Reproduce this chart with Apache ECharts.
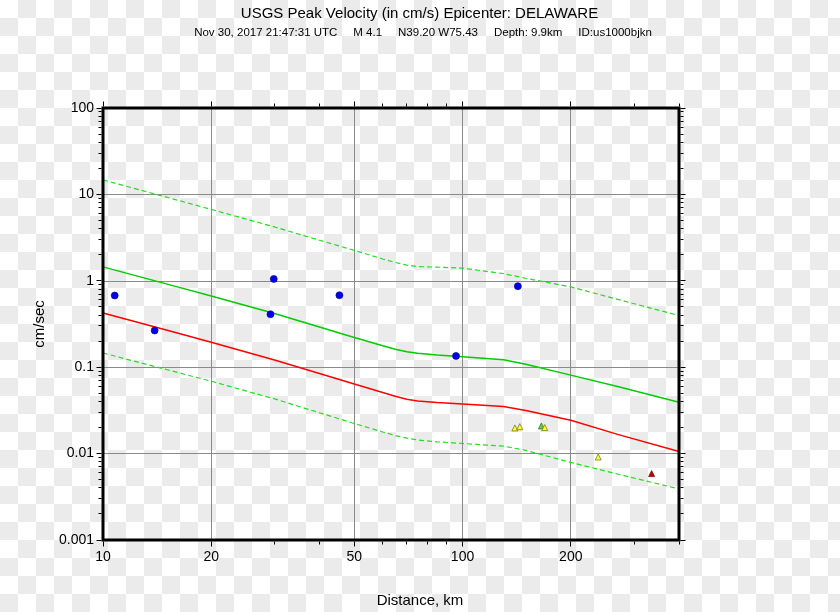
<!DOCTYPE html>
<html>
<head>
<meta charset="utf-8">
<script src="https://cdn.jsdelivr.net/npm/echarts@6/dist/echarts.min.js"></script>
<style>
html,body{margin:0;padding:0;}
body{width:840px;height:612px;overflow:hidden;background-color:#fff;}
#chart{width:840px;height:612px;}
</style>
</head>
<body>
<div id="chart"></div>
<script>
// ---------- data ----------
const distances   = [10, 15, 20, 30, 40, 50, 60, 65, 70, 75, 85, 100, 130, 150, 200, 270, 400];
const medianPGV   = [1.449, 0.921, 0.668, 0.418, 0.292, 0.221, 0.177, 0.161, 0.151, 0.145, 0.138, 0.132, 0.1223, 0.108, 0.081, 0.0598, 0.0393];
const upperPGV    = [14.7, 9.3, 6.7, 4.2, 2.95, 2.25, 1.79, 1.63, 1.52, 1.46, 1.44, 1.40, 1.21, 1.07, 0.85, 0.61, 0.396];
const lowerPGV    = [0.146, 0.094, 0.0688, 0.043, 0.0297, 0.0223, 0.0178, 0.0162, 0.0151, 0.0144, 0.0137, 0.0131, 0.0122, 0.0109, 0.0079, 0.0058, 0.0039];
const redPGV      = [0.425, 0.269, 0.1945, 0.121, 0.0844, 0.064, 0.0509, 0.0461, 0.0425, 0.0407, 0.039, 0.0376, 0.0351, 0.0315, 0.0243, 0.0167, 0.0106];

const stationDist = [10.78, 13.92, 29.85, 29.23, 45.45, 95.9, 142.5];
const stationPGV  = [0.676, 0.266, 1.052, 0.410, 0.681, 0.135, 0.866];

const triDist     = [139.8, 144.3, 165.7, 169.3, 238.4, 335.7];
const triPGV      = [0.0198, 0.0205, 0.0209, 0.0200, 0.00913, 0.00587];
const triColors   = ['#ffff33', '#ffff33', '#66cc44', '#ffff33', '#ffff33', '#cc0000'];
const triBorders  = ['#6b6b00', '#6b6b00', '#2d6b1e', '#6b6b00', '#6b6b00', '#5a0000'];

const xLabelVals  = [10, 20, 50, 100, 200];
const xLabelText  = ['10', '20', '50', '100', '200'];
const xGridVals   = [20, 50, 100, 200];
const xMajorTicks = [10, 20, 50, 100, 200];
const xMinorTicks = [30, 40, 60, 70, 80, 90, 300, 400];
const yMajorTicks = [0.001, 0.01, 0.1, 1, 10, 100];
const yMinorTicks = [0.002, 0.003, 0.004, 0.005, 0.006, 0.007, 0.008, 0.009,
                     0.02, 0.03, 0.04, 0.05, 0.06, 0.07, 0.08, 0.09,
                     0.2, 0.3, 0.4, 0.5, 0.6, 0.7, 0.8, 0.9,
                     2, 3, 4, 5, 6, 7, 8, 9,
                     20, 30, 40, 50, 60, 70, 80, 90];

const titleText = 'USGS Peak Velocity (in cm/s) Epicenter: DELAWARE';
const subText = 'Nov 30, 2017 21:47:31 UTC     M 4.1     N39.20 W75.43     Depth: 9.9km     ID:us1000bjkn';

// ---------- chart ----------
const FONT = '"Liberation Sans", Arial, Helvetica, sans-serif';
const X_MIN = 10, X_MAX = 400, Y_MIN = 0.001, Y_MAX = 100;

// checkerboard backdrop (transparency pattern of the reference image)
const tile = document.createElement('canvas');
tile.width = 36; tile.height = 36;
(function () {
  const c = tile.getContext('2d');
  c.fillStyle = '#ffffff'; c.fillRect(0, 0, 36, 36);
  c.fillStyle = '#ebebeb'; c.fillRect(18, 0, 18, 18); c.fillRect(0, 18, 18, 18);
})();

function crisp(v) { return Math.round(v - 0.5) + 0.5; }

function xTickSeries(vals, len) {
  return {
    type: 'custom', silent: true, clip: false, z: 6,
    data: vals.map(v => [v, Y_MIN]), encode: { x: 0, y: 1 },
    renderItem: function (params, api) {
      const cs = params.coordSys;
      const px = crisp(api.coord([api.value(0), Y_MIN])[0]);
      const b = cs.y + cs.height + 1.5, t = cs.y - 1.5;
      return { type: 'group', children: [
        { type: 'line', shape: { x1: px, y1: b, x2: px, y2: b + len }, style: { stroke: '#000', lineWidth: 1 } },
        { type: 'line', shape: { x1: px, y1: t, x2: px, y2: t - len }, style: { stroke: '#000', lineWidth: 1 } }
      ] };
    }
  };
}
function yTickSeries(vals, len) {
  return {
    type: 'custom', silent: true, clip: false, z: 6,
    data: vals.map(v => [X_MIN, v]), encode: { x: 0, y: 1 },
    renderItem: function (params, api) {
      const cs = params.coordSys;
      const py = crisp(api.coord([X_MIN, api.value(1)])[1]);
      const l = cs.x - 1.5, r = cs.x + cs.width + 1.5;
      return { type: 'group', children: [
        { type: 'line', shape: { x1: l, y1: py, x2: l - len, y2: py }, style: { stroke: '#000', lineWidth: 1 } },
        { type: 'line', shape: { x1: r, y1: py, x2: r + len, y2: py }, style: { stroke: '#000', lineWidth: 1 } }
      ] };
    }
  };
}
const xGridSeries = {
  type: 'custom', silent: true, clip: false, z: 1,
  data: xGridVals.map(v => [v, Y_MIN]), encode: { x: 0, y: 1 },
  renderItem: function (params, api) {
    const cs = params.coordSys;
    const px = crisp(api.coord([api.value(0), Y_MIN])[0]);
    return { type: 'line', shape: { x1: px, y1: cs.y, x2: px, y2: cs.y + cs.height }, style: { stroke: '#8a8a8a', lineWidth: 1 } };
  }
};
const xLabelSeries = {
  type: 'custom', silent: true, clip: false, z: 6,
  data: xLabelVals.map((v, i) => [v, Y_MIN, i]), encode: { x: 0, y: 1 },
  renderItem: function (params, api) {
    const cs = params.coordSys;
    const px = api.coord([api.value(0), Y_MIN])[0];
    return { type: 'text', style: {
      text: xLabelText[api.value(2)], x: px, y: cs.y + cs.height + 16.7,
      align: 'center', verticalAlign: 'middle', textAlign: 'center', textVerticalAlign: 'middle',
      fill: '#000', fontSize: 14, fontFamily: FONT
    } };
  }
};

function lineSeries(vals, color, width, dashed) {
  return {
    type: 'line', data: distances.map((d, i) => [d, vals[i]]),
    showSymbol: false, symbol: 'none', smooth: false, silent: true, z: 3,
    lineStyle: { color: color, width: width, type: dashed ? [5, 3] : 'solid' }
  };
}

const chart = echarts.init(document.getElementById('chart'), null, { renderer: 'canvas' });
chart.setOption({
  backgroundColor: { image: tile, repeat: 'repeat' },
  animation: false,
  graphic: [
    { type: 'text', x: 419.5, y: 13.5, style: { text: titleText, align: 'center', verticalAlign: 'middle', fill: '#000', fontSize: 15, fontFamily: FONT } },
    { type: 'text', x: 423, y: 32.5, style: { text: subText, align: 'center', verticalAlign: 'middle', fill: '#000', fontSize: 11.5, fontFamily: FONT } },
    { type: 'text', x: 420, y: 600.5, style: { text: 'Distance, km', align: 'center', verticalAlign: 'middle', fill: '#000', fontSize: 15, fontFamily: FONT } },
    { type: 'text', x: 40, y: 324, rotation: Math.PI / 2, style: { text: 'cm/sec', align: 'center', verticalAlign: 'middle', fill: '#000', fontSize: 15, fontFamily: FONT } }
  ],
  grid: { left: 103, top: 108, width: 576, height: 432, show: true, borderColor: '#000', borderWidth: 3, backgroundColor: 'transparent', z: 4 },
  xAxis: {
    type: 'log', logBase: 10, min: X_MIN, max: X_MAX,
    axisLine: { show: false }, axisTick: { show: false }, axisLabel: { show: false }, splitLine: { show: false }
  },
  yAxis: {
    type: 'log', logBase: 10, min: Y_MIN, max: Y_MAX,
    axisLine: { show: false }, axisTick: { show: false },
    axisLabel: { fontSize: 14, color: '#000', margin: 9, fontFamily: FONT, formatter: v => String(+(+v).toPrecision(6)) },
    splitLine: { show: true, lineStyle: { color: '#8a8a8a', width: 1 } }
  },
  series: [
    xGridSeries,
    lineSeries(upperPGV, '#22dd22', 1.2, true),
    lineSeries(lowerPGV, '#22dd22', 1.2, true),
    lineSeries(medianPGV, '#00cc00', 1.5, false),
    lineSeries(redPGV, '#ff0000', 1.5, false),
    {
      type: 'scatter', z: 5, silent: true,
      data: stationDist.map((d, i) => [d, stationPGV[i]]),
      symbol: 'circle', symbolSize: 7,
      itemStyle: { color: '#0000ee', borderColor: '#000080', borderWidth: 0.6, opacity: 1 }
    },
    {
      type: 'scatter', z: 5, silent: true,
      data: triDist.map((d, i) => ({ value: [d, triPGV[i]], itemStyle: { color: triColors[i], borderColor: triBorders[i] } })),
      symbol: 'triangle', symbolSize: 6,
      itemStyle: { borderWidth: 0.7, opacity: 1 }
    },
    xTickSeries(xMajorTicks, 5),
    xTickSeries(xMinorTicks, 3),
    yTickSeries(yMajorTicks, 5),
    yTickSeries(yMinorTicks, 3),
    xLabelSeries
  ]
});
</script>
</body>
</html>
